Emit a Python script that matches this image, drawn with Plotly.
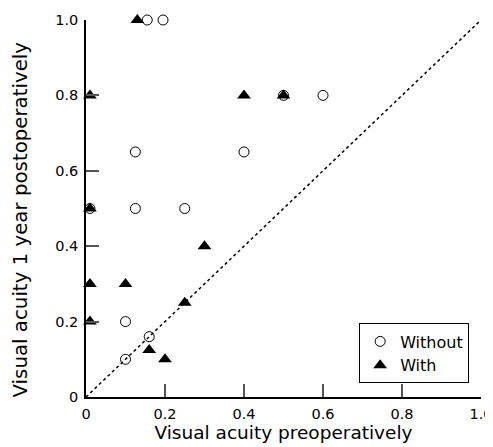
import plotly.graph_objects as go

# Without (open circles)
without_x = [0.155, 0.195, 0.125, 0.40, 0.50, 0.60, 0.01, 0.125, 0.25, 0.10, 0.16, 0.10]
without_y = [1.00, 1.00, 0.65, 0.65, 0.80, 0.80, 0.50, 0.50, 0.50, 0.20, 0.16, 0.10]

# With (filled triangles)
with_x = [0.13, 0.01, 0.40, 0.50, 0.01, 0.30, 0.01, 0.10, 0.01, 0.25, 0.16, 0.20]
with_y = [1.00, 0.80, 0.80, 0.80, 0.50, 0.40, 0.30, 0.30, 0.20, 0.25, 0.125, 0.10]

# line of equality
diag = [0.0, 1.0]

tick_vals = [0, 0.2, 0.4, 0.6, 0.8, 1.0]
tick_text = ["0", "0.2", "0.4", "0.6", "0.8", "1.0"]

x_title = "Visual acuity preoperatively"
y_title = "Visual acuity 1 year postoperatively"

FONT = "DejaVu Sans, Liberation Sans, Arial, sans-serif"

fig = go.Figure()
fig.add_trace(go.Scatter(x=diag, y=diag, mode="lines",
                         line=dict(color="black", width=1.5, dash="dot"),
                         showlegend=False, hoverinfo="skip"))
fig.add_trace(go.Scatter(x=without_x, y=without_y, mode="markers", name="Without",
                         marker=dict(symbol="circle-open", size=10, color="black",
                                     line=dict(width=1, color="black")),
                         cliponaxis=False))
fig.add_trace(go.Scatter(x=with_x, y=with_y, mode="markers", name="With",
                         marker=dict(symbol="triangle-up", size=12, color="black",
                                     line=dict(width=0)),
                         cliponaxis=False))

axis_common = dict(range=[0, 1], tickvals=tick_vals, ticktext=tick_text,
                   ticks="inside", ticklen=13, tickwidth=1.5, tickcolor="#555",
                   showline=True, linecolor="black", linewidth=1.5,
                   showgrid=False, zeroline=False, mirror=False, automargin=False,
                   ticklabelstandoff=3, ticklabeloverflow="allow",
                   tickfont=dict(size=14.5, color="black", family=FONT))

fig.update_layout(
    width=485, height=439,
    margin=dict(l=78, r=12, t=12, b=50),
    paper_bgcolor="white", plot_bgcolor="white",
    font=dict(family=FONT, color="black", size=18),
    xaxis=dict(axis_common, title=dict(text=x_title, font=dict(size=18.5), standoff=2)),
    yaxis=dict(axis_common),
    legend=dict(x=0.97, y=0.195, xanchor="right", yanchor="top",
                bordercolor="black", borderwidth=1, bgcolor="white",
                font=dict(size=16), tracegroupgap=0, itemwidth=30),
    annotations=[dict(text=y_title, textangle=-90, showarrow=False,
                      xref="paper", yref="paper", x=0, y=0.5,
                      xanchor="center", yanchor="middle",
                      xshift=-66, yshift=-11, font=dict(size=19.8))],
)

fig.write_html("out.html",
               post_script="document.documentElement.style.overflow='hidden';"
                           "document.body.style.overflow='hidden';")
